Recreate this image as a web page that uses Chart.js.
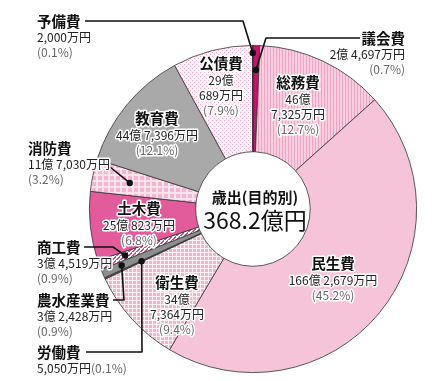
<!DOCTYPE html>
<html lang="ja">
<head>
<meta charset="utf-8">
<script src="https://cdn.jsdelivr.net/npm/chart.js@4/dist/chart.umd.min.js"></script>
<style>
  body { margin: 0; background: #fff; }
  canvas { display: block; }
</style>
</head>
<body>
<canvas id="chart" width="438" height="381"></canvas>
<script>
// 歳出（目的別）単位：万円
const categories = ['議会費', '総務費', '民生費', '衛生費', '労働費', '農水産業費', '商工費', '土木費', '消防費', '教育費', '公債費', '予備費'];
const amounts = [24697, 467325, 1662679, 347364, 5050, 32428, 34519, 250823, 117030, 447396, 290689, 2000];
const percents = ['0.7', '12.7', '45.2', '9.4', '0.1', '0.9', '0.9', '6.8', '3.2', '12.1', '7.9', '0.1'];
const centerTitle = '歳出(目的別)';
const centerTotal = '368.2億円';

const FONT = '"Noto Sans CJK JP", "Noto Sans", sans-serif';

// 模様
function makePattern(w, h, draw) {
  const c = document.createElement('canvas');
  c.width = w; c.height = h;
  const g = c.getContext('2d');
  draw(g);
  return g.createPattern(c, 'repeat');
}
const stripesV = makePattern(3, 3, g => {
  g.fillStyle = '#f9cfe0'; g.fillRect(0, 0, 3, 3);
  g.fillStyle = '#eea3c4'; g.fillRect(0, 0, 1, 3);
});
const gridSmall = makePattern(4, 4, g => {
  g.fillStyle = '#f2b3cd'; g.fillRect(0, 0, 4, 4);
  g.fillStyle = '#fdf0f5'; g.fillRect(0, 0, 1, 4); g.fillRect(0, 0, 4, 1);
});
const gridLarge = makePattern(6, 6, g => {
  g.fillStyle = '#f3b6cf'; g.fillRect(0, 0, 6, 6);
  g.fillStyle = '#fbe3ed'; g.fillRect(0, 0, 2, 6); g.fillRect(0, 0, 6, 2);
});
const dots = makePattern(4, 4, g => {
  g.fillStyle = '#fdf5f8'; g.fillRect(0, 0, 4, 4);
  g.fillStyle = '#eeaac6'; g.fillRect(0, 0, 1, 1); g.fillRect(2, 2, 1, 1);
});
const diag = makePattern(4, 4, g => {
  g.fillStyle = '#ffffff'; g.fillRect(0, 0, 4, 4);
  g.fillStyle = '#d9468a';
  for (let i = 0; i < 4; i++) { g.fillRect(i, 3 - i, 2, 1); }
});

const colors = ['#c4146c', stripesV, '#f5c4d8', gridSmall, '#5a5a5a', '#8e8e8e', diag, '#e25b9b', gridLarge, '#a9a9a9', dots, '#b01060'];

function amountText(v) {
  const oku = Math.floor(v / 10000);
  const man = (v % 10000).toLocaleString('en-US');
  return oku > 0 ? [oku + '億', man + '万円'] : [null, man + '万円'];
}

// ラベルの配置
const inside = {
  1: { x: 298, y: 82, split: true },
  2: { x: 333, y: 263, split: false },
  3: { x: 177, y: 282, split: true },
  7: { x: 139, y: 208, split: false },
  9: { x: 157, y: 118, split: false },
  10: { x: 221, y: 63, split: true }
};
const callouts = {
  11: { x: 37, y: 21, align: 'left', r: 156, path: [[85, 21], [243, 21]] },
  0: { x: 405, y: 38, align: 'right', r: 139, path: [[360, 38], [266, 38]] },
  8: { x: 28, y: 148, align: 'left', r: 126, path: [[110, 167]] },
  6: { x: 37, y: 247, align: 'left', r: 136, path: [[84, 247], [113, 247]] },
  5: { x: 37, y: 300, align: 'left', r: 143, path: [[113, 300], [124, 300]] },
  4: { x: 37, y: 352, align: 'left', r: 123, path: [[86, 352], [142, 352]], oneLine: true }
};

function haloText(ctx, text, x, y, font, color) {
  ctx.font = font;
  ctx.lineJoin = 'round';
  ctx.strokeStyle = '#fff';
  ctx.lineWidth = 3;
  ctx.strokeText(text, x, y);
  ctx.fillStyle = color;
  ctx.fillText(text, x, y);
}

const labelPlugin = {
  id: 'labels',
  afterDatasetsDraw(chart) {
    const ctx = chart.ctx;
    const arcs = chart.getDatasetMeta(0).data;
    const nameFont = 'bold 14.5px ' + FONT;
    const numFont = '12px ' + FONT;
    ctx.save();
    ctx.textBaseline = 'middle';

    // スライス内のラベル
    Object.keys(inside).forEach(k => {
      const i = +k, p = inside[k];
      const [oku, man] = amountText(amounts[i]);
      ctx.textAlign = 'center';
      haloText(ctx, categories[i], p.x, p.y, nameFont, '#111');
      let y = p.y + 17;
      if (p.split) {
        haloText(ctx, oku, p.x, y, numFont, '#222'); y += 15;
        haloText(ctx, man, p.x, y, numFont, '#222'); y += 15;
      } else {
        haloText(ctx, oku + ' ' + man, p.x, y, numFont, '#222'); y += 15;
      }
      haloText(ctx, '(' + percents[i] + '%)', p.x, y, numFont, '#666');
    });

    // 引き出し線のラベル
    Object.keys(callouts).forEach(k => {
      const i = +k, p = callouts[k];
      const a = arcs[i];
      const mid = (a.startAngle + a.endAngle) / 2;
      const dx = a.x + Math.cos(mid) * p.r;
      const dy = a.y + Math.sin(mid) * p.r;
      ctx.strokeStyle = '#111';
      ctx.lineWidth = 1.6;
      ctx.beginPath();
      p.path.forEach((pt, j) => j ? ctx.lineTo(pt[0], pt[1]) : ctx.moveTo(pt[0], pt[1]));
      ctx.lineTo(dx, dy);
      ctx.stroke();
      ctx.fillStyle = '#111';
      ctx.beginPath();
      ctx.arc(dx, dy, 3.2, 0, Math.PI * 2);
      ctx.fill();

      const [oku, man] = amountText(amounts[i]);
      const amt = oku ? oku + ' ' + man : man;
      ctx.textAlign = p.align;
      haloText(ctx, categories[i], p.x, p.y, nameFont, '#111');
      if (p.oneLine) {
        ctx.font = numFont;
        const w = ctx.measureText(amt).width;
        haloText(ctx, amt, p.x, p.y + 16, numFont, '#222');
        haloText(ctx, '(' + percents[i] + '%)', p.x + w, p.y + 16, numFont, '#666');
      } else {
        haloText(ctx, amt, p.x, p.y + 16, numFont, '#222');
        haloText(ctx, '(' + percents[i] + '%)', p.x, p.y + 31, numFont, '#666');
      }
    });

    // 中央
    const c = arcs[0];
    ctx.textAlign = 'center';
    ctx.fillStyle = '#111';
    ctx.font = 'bold 15px ' + FONT;
    ctx.fillText(centerTitle, c.x + 2, c.y - 12);
    ctx.font = '23px ' + FONT;
    ctx.fillText(centerTotal, c.x + 2, c.y + 11);
    ctx.restore();
  }
};

new Chart(document.getElementById('chart'), {
  type: 'doughnut',
  data: {
    labels: categories,
    datasets: [{
      data: amounts,
      backgroundColor: colors,
      borderColor: '#333',
      borderWidth: 0.8
    }]
  },
  options: {
    responsive: false,
    animation: false,
    cutout: '35%',
    layout: { padding: { left: 89, right: 21, top: 45, bottom: 8 } },
    plugins: {
      legend: { display: false },
      tooltip: { enabled: false }
    }
  },
  plugins: [labelPlugin]
});
</script>
</body>
</html>
